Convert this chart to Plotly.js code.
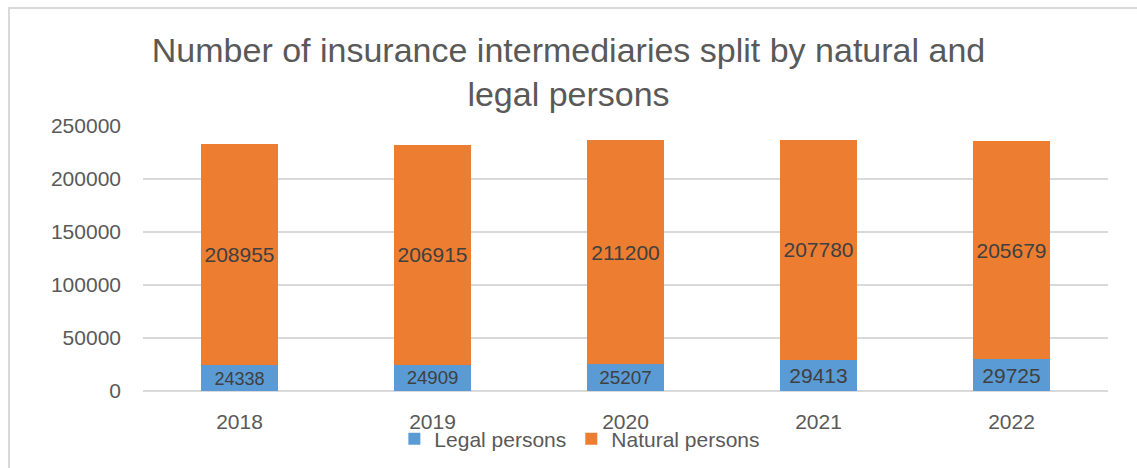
<!DOCTYPE html>
<html><head><meta charset="utf-8">
<script src="https://cdn.plot.ly/plotly-3.0.1.min.js"></script>
<style>html,body{margin:0;padding:0;background:#fff;}#chart{width:1137px;height:468px;}
.bl{position:absolute;left:8px;top:7px;width:2px;height:461px;background:#d9d9d9;pointer-events:none}
.bt{position:absolute;left:8px;top:7px;width:1129px;height:2px;background:#d9d9d9;pointer-events:none}</style>
</head><body>
<div id="chart"></div><div class="bl"></div><div class="bt"></div>
<script>
const years = ['2018','2019','2020','2021','2022'];
const legalPersons = [24338, 24909, 25207, 29413, 29725];
const naturalPersons = [208955, 206915, 211200, 207780, 205679];
const FONT = 'Liberation Sans, Arial, sans-serif';
const traces = [
  {type:'bar', name:'Legal persons', x:years, y:legalPersons, marker:{color:'#5B9BD5'},
   text:legalPersons.map(String), textposition:'inside', insidetextanchor:'middle', textangle:0,
   textfont:{color:'#404040', size:21, family:FONT}, hoverinfo:'none'},
  {type:'bar', name:'Natural persons', x:years, y:naturalPersons, marker:{color:'#ED7D31'},
   text:naturalPersons.map(String), textposition:'inside', insidetextanchor:'middle', textangle:0,
   textfont:{color:'#404040', size:21, family:FONT}, hoverinfo:'none'}
];
const layout = {
  width:1137, height:468, barmode:'stack', bargap:0.6,
  margin:{l:143, r:29, t:126, b:77},
  paper_bgcolor:'#fff', plot_bgcolor:'#fff',
  font:{family:FONT, color:'#595959'},
  title:{text:'Number of insurance intermediaries split by natural and<br>legal persons', x:0.5, xref:'container', xanchor:'center', yref:'container', y:0.868, yanchor:'top', font:{size:34, color:'#595959', family:FONT}},
  xaxis:{type:'category', showline:false, ticks:'', tickfont:{size:21, color:'#595959'}, showgrid:false, ticklabelstandoff:16},
  yaxis:{range:[0,250000], dtick:50000, tickformat:'d', showgrid:true, gridcolor:'#d9d9d9', gridwidth:2, zeroline:true, zerolinecolor:'#d9d9d9', zerolinewidth:2, showline:false, tickfont:{size:21, color:'#595959'}, ticklabelstandoff:21},
  legend:{orientation:'h', traceorder:'normal', x:0.51, xref:'container', xanchor:'center', y:0.062, yref:'container', yanchor:'middle', font:{size:21, color:'#595959'}, itemwidth:30, tracegroupgap:0, bgcolor:'rgba(0,0,0,0)'},
  showlegend:true
};
Plotly.newPlot('chart', traces, layout, {displayModeBar:false, staticPlot:true});
</script>
</body></html>
